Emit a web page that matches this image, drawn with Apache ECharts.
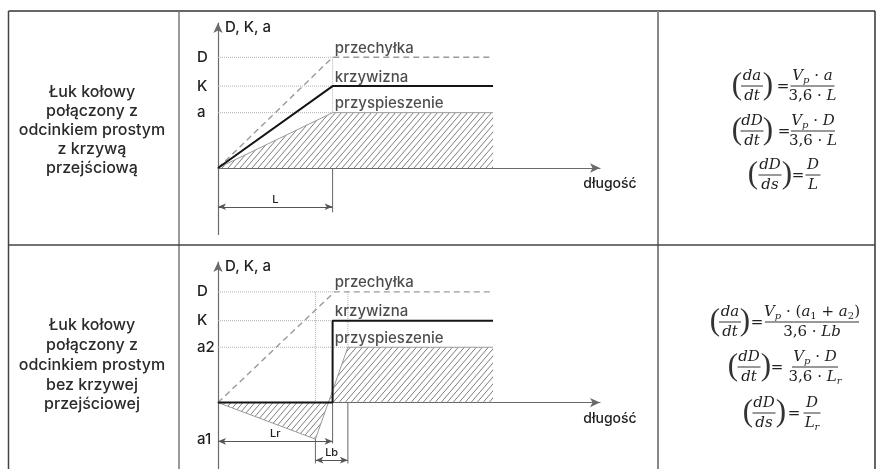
<!DOCTYPE html>
<html><head><meta charset="utf-8">
<script src="https://cdn.jsdelivr.net/npm/echarts@6/dist/echarts.min.js"></script>
<style>html,body{margin:0;padding:0;background:#fff}#c{width:880px;height:469px}</style>
</head><body><div id="c"></div>
<script>
// ---------- data ----------
const X_MAX = 100;
// panel 1: łuk z krzywą przejściową
const p1YRange = [-60, 131];
const p1Cant = [[0,0],[30,100],[72,100]];
const p1Curv = [[0,0],[30,74],[72,74]];
const p1Acc  = [[0,0],[30,50],[72,50]];
const p1TickValues = [50, 74, 100];
const p1TickLabels = ['a', 'K', 'D'];
const p1Guides = [[[0,100],[30,100]], [[0,74],[30,74]], [[0,50],[30,50]], [[30,100],[30,50]]];
const p1Ext = [[[30,0],[30,-40]]];
const p1Dims = [{from:[0,-35], to:[30,-35], text:'L'}];
const p1Names = [{text:'przechyłka', at:[30.6,100]}, {text:'krzywizna', at:[30.6,74]}, {text:'przyspieszenie', at:[30.6,50]}];
// panel 2: łuk bez krzywej przejściowej
const p2YRange = [-60, 127];
const p2Cant = [[0,0],[30.5,100],[72,100]];
const p2Curv = [[0,0],[30,0],[30,74],[72,74]];
const p2Acc  = [[0,0],[25.5,-33],[34,50],[72,50]];
const p2TickValues = [-33, 50, 74, 100];
const p2TickLabels = ['a1', 'a2', 'K', 'D'];
const p2Guides = [[[0,100],[30.5,100]], [[0,74],[30,74]], [[0,50],[34,50]], [[25.5,100],[25.5,0]], [[34,100],[34,50]]];
const p2Ext = [[[30,0],[30,-37]], [[25.5,-33],[25.5,-55]], [[34,0],[34,-55]]];
const p2Dims = [{from:[0,-35], to:[30,-35], text:'Lr'}, {from:[25.5,-52], to:[34,-52], text:'Lb'}];
const p2Names = [{text:'przechyłka', at:[30.6,100]}, {text:'krzywizna', at:[30.6,74]}, {text:'przyspieszenie', at:[30.6,50]}];

const rowTexts = ['Łuk kołowy\npołączony z\nodcinkiem prostym\nz krzywą\nprzejściową',
                  'Łuk kołowy\npołączony z\nodcinkiem prostym\nbez krzywej\nprzejściowej'];

// ---------- helpers ----------
function hatch(){
  const w=6,h=7,c=document.createElement('canvas');c.width=w;c.height=h;
  const g=c.getContext('2d');g.strokeStyle='#7d7d7d';g.lineWidth=1;
  [-w,0,w].forEach(o=>{g.beginPath();g.moveTo(o-0.6,h+0.7);g.lineTo(o+w+0.6,-0.7);g.stroke();});
  return c;
}
const HATCH = hatch();
const SANS = 'Inter';
const TXT = '#1e1e1e';

function panel(g, d){
  const s = [];
  const base = {type:'line', xAxisIndex:g, yAxisIndex:g, showSymbol:false, symbol:'none', silent:true, animation:false};
  d.guides.forEach(seg=>s.push(Object.assign({}, base, {data:seg, z:1, lineStyle:{type:'dotted', color:'#b0b0b0', width:1}})));
  s.push(Object.assign({}, base, {data:d.acc, z:2, lineStyle:{color:'#9a9a9a', width:1},
    areaStyle:{color:{image:HATCH, repeat:'repeat'}, opacity:1}}));
  d.ext.forEach((seg,i)=>{
    const o = Object.assign({}, base, {data:seg, z:3, lineStyle:{color:'#666', width:1}});
    if(i===0){
      o.markLine = {silent:true, symbol:['arrow','arrow'], symbolSize:[5,8], animation:false,
        lineStyle:{color:'#555', width:1, type:'solid'},
        label:{show:true, position:'insideMiddleTop', distance:2, color:TXT, fontFamily:SANS, fontWeight:500, fontSize:11},
        data: d.dims.map(m=>[{coord:m.from, name:m.text, label:{formatter:m.text}},{coord:m.to}])};
    }
    s.push(o);
  });
  s.push(Object.assign({}, base, {data:d.cant, z:4, lineStyle:{type:[6,4], color:'#9a9a9a', width:1.4}}));
  s.push(Object.assign({}, base, {data:d.curv, z:5, lineStyle:{color:'#151515', width:2}}));
  s.push({type:'scatter', xAxisIndex:g, yAxisIndex:g, silent:true, symbolSize:0.1, itemStyle:{color:'transparent'},
    data:d.names.map(n=>({value:n.at, label:{show:true, formatter:n.text}})),
    label:{position:[0,-9], align:'left', verticalAlign:'middle', color:TXT, fontFamily:SANS, fontWeight:500, fontSize:15}, z:6});
  return s;
}

function xAxis(g){
  return {gridIndex:g, type:'value', min:0, max:X_MAX,
    axisLine:{show:true, onZero:true, symbol:['none','arrow'], symbolSize:[7,10], lineStyle:{color:'#6a6a6a', width:1.2}},
    axisTick:{show:false}, axisLabel:{show:false}, splitLine:{show:false},
    name:'długość', nameLocation:'end', nameGap:10,
    nameTextStyle:{align:'center', verticalAlign:'top', padding:[9,0,0,0], color:TXT, fontFamily:SANS, fontWeight:500, fontSize:14}};
}
function yAxis(g, range, vals, labels){
  return {gridIndex:g, type:'value', min:range[0], max:range[1],
    axisLine:{show:true, onZero:false, symbol:['none','arrow'], symbolSize:[7,10], lineStyle:{color:'#6a6a6a', width:1.2}},
    axisTick:{show:false}, splitLine:{show:false},
    axisLabel:{customValues:vals, formatter:v=>labels[vals.indexOf(v)], align:'left', margin:21, color:TXT, fontFamily:SANS, fontWeight:500, fontSize:15},
    name:'D, K, a', nameLocation:'end', nameGap:-4,
    nameTextStyle:{align:'left', verticalAlign:'middle', padding:[0,0,0,7], color:TXT, fontFamily:SANS, fontWeight:500, fontSize:15}};
}

// ---------- formulas ----------
const SERIF='DejaVu Serif';
const rich = {
  i:{fontFamily:SERIF, fontStyle:'italic', fontSize:15, lineHeight:18, fill:'#1e1e1e'},
  n:{fontFamily:SERIF, fontSize:15, lineHeight:18, fill:'#1e1e1e'},
  s:{fontFamily:SERIF, fontStyle:'italic', fontSize:10, lineHeight:7, verticalAlign:'bottom', fill:'#1e1e1e'},
  t:{fontFamily:SERIF, fontSize:10, lineHeight:7, verticalAlign:'bottom', fill:'#1e1e1e'}
};
function frac(cx, by, num, den, w){
  return [
    {type:'text', x:cx, y:by-1, style:{text:num, rich, align:'center', verticalAlign:'bottom'}},
    {type:'line', shape:{x1:cx-w/2, y1:by, x2:cx+w/2, y2:by}, style:{stroke:'#333', lineWidth:1}},
    {type:'text', x:cx, y:by+1, style:{text:den, rich, align:'center', verticalAlign:'top'}}
  ];
}
function eq(by, lx, lw, pl, pr, ex, lnum, lden, rx, rw, rnum, rden){
  return [].concat(
    frac(lx, by, lnum, lden, lw),
    [{type:'text', x:pl, y:by, style:{text:'(', fontFamily:'Liberation Serif', fontSize:31, align:'center', verticalAlign:'middle', fill:'#333'}},
     {type:'text', x:pr, y:by, style:{text:')', fontFamily:'Liberation Serif', fontSize:31, align:'center', verticalAlign:'middle', fill:'#333'}},
     {type:'text', x:ex, y:by+1, style:{text:'=', fontFamily:SERIF, fontSize:15, align:'center', verticalAlign:'middle', fill:'#222'}}],
    frac(rx, by, rnum, rden, rw));
}
const VP='{i|V}{s|p}';
const formulas = [].concat(
  eq(86, 752,22,737,768,783,'{i|da}','{i|dt}', 812.5,44, VP+'{n| · }{i|a}','{n|3,6 · }{i|L}'),
  eq(131,752,23,737,768,784,'{i|dD}','{i|dt}', 813,44, VP+'{n| · }{i|D}','{n|3,6 · }{i|L}'),
  eq(175,770,23,753,787,798,'{i|dD}','{i|ds}', 813,15, '{i|D}','{i|L}'),
  eq(322,730,22,715,745,757,'{i|da}','{i|dt}', 812,94, VP+'{n| · (}{i|a}{t|1}{n| + }{i|a}{t|2}{n|)}','{n|3,6 · }{i|Lb}'),
  eq(367,749,23,733,766,777,'{i|dD}','{i|dt}', 815,46, VP+'{n| · }{i|D}','{n|3,6 · }{i|L}{s|r}'),
  eq(413,764,23,748,781,794,'{i|dD}','{i|ds}', 812,17, '{i|D}','{i|L}{s|r}')
);

// ---------- table ----------
function ln(x1,y1,x2,y2,c,w){return {type:'line', shape:{x1,y1,x2,y2}, style:{stroke:c, lineWidth:w}, z:0};}
const table = [
  ln(8.5,11,875,11,'#333',1.5), ln(8.5,11,8.5,469,'#444',1.5), ln(179,11,179,469,'#777',1.5),
  ln(658,11,658,469,'#888',2), ln(875,11,875,469,'#333',1.5), ln(8.5,245,875,245,'#444',1.5),
  {type:'text', x:92, y:130.5, style:{text:rowTexts[0], fontFamily:SANS, fontWeight:500, fontSize:16, lineHeight:19, align:'center', verticalAlign:'middle', fill:'#2a2a2a'}},
  {type:'text', x:92, y:365, style:{text:rowTexts[1], fontFamily:SANS, fontWeight:500, fontSize:16, lineHeight:19.8, align:'center', verticalAlign:'middle', fill:'#2a2a2a'}}
];

const chart = echarts.init(document.getElementById('c'), null, {renderer:'canvas'});
chart.setOption({
  animation:false,
  backgroundColor:'#fff',
  grid:[{left:218, top:23, width:382, height:(p1YRange[1]-p1YRange[0])*1.107},
        {left:218, top:262, width:382, height:(p2YRange[1]-p2YRange[0])*1.107}],
  xAxis:[xAxis(0), xAxis(1)],
  yAxis:[yAxis(0,p1YRange,p1TickValues,p1TickLabels), yAxis(1,p2YRange,p2TickValues,p2TickLabels)],
  series:[].concat(
    panel(0,{cant:p1Cant,curv:p1Curv,acc:p1Acc,guides:p1Guides,ext:p1Ext,dims:p1Dims,names:p1Names}),
    panel(1,{cant:p2Cant,curv:p2Curv,acc:p2Acc,guides:p2Guides,ext:p2Ext,dims:p2Dims,names:p2Names})),
  graphic:{elements: table.concat(formulas)}
});
</script></body></html>
